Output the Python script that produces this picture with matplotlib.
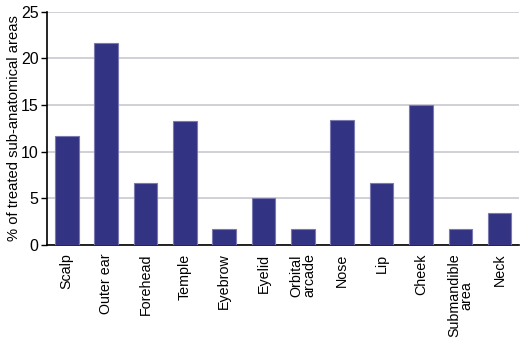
import matplotlib
matplotlib.use("Agg")
import matplotlib.pyplot as plt
import numpy as np

categories = ["Scalp", "Outer ear", "Forehead", "Temple", "Eyebrow", "Eyelid",
              "Orbital\narcade", "Nose", "Lip", "Cheek", "Submandible\narea", "Neck"]
percent = [11.7, 21.6, 6.7, 13.3, 1.7, 5.0, 1.7, 13.4, 6.7, 15.0, 1.7, 3.4]
y_ticks = [0, 5, 10, 15, 20, 25]

plt.rcParams["font.family"] = ["Liberation Sans", "DejaVu Sans"]

fig = plt.figure(figsize=(5.26, 3.39), dpi=100)
ax = fig.add_axes([0.0894, 0.277, 0.898, 0.6885])

x = np.arange(len(categories))
ax.bar(x, percent, width=0.6, color="#333383", edgecolor="#7a7ab0", linewidth=0.8, zorder=3)

ax.set_xlim(-0.5, len(categories) - 0.5)
ax.set_ylim(0, 25)
ax.set_yticks(y_ticks)
ax.yaxis.grid(True, color="#c8c8d0", linewidth=1.2, zorder=0)
ax.set_xticks(x)
ax.set_xticklabels(categories, rotation=90, fontsize=10.3, linespacing=0.85, va="top", ha="center")
ax.tick_params(axis="x", length=0, pad=6)
ax.tick_params(axis="y", labelsize=11.5, length=4, width=1, pad=2)
ax.set_ylabel("% of treated sub-anatomical areas", fontsize=10.6, labelpad=0)

for side in ["top", "right"]:
    ax.spines[side].set_visible(False)
ax.spines["left"].set_linewidth(1.2)
ax.spines["bottom"].set_linewidth(1.2)

fig.savefig("out.png", dpi=100)
